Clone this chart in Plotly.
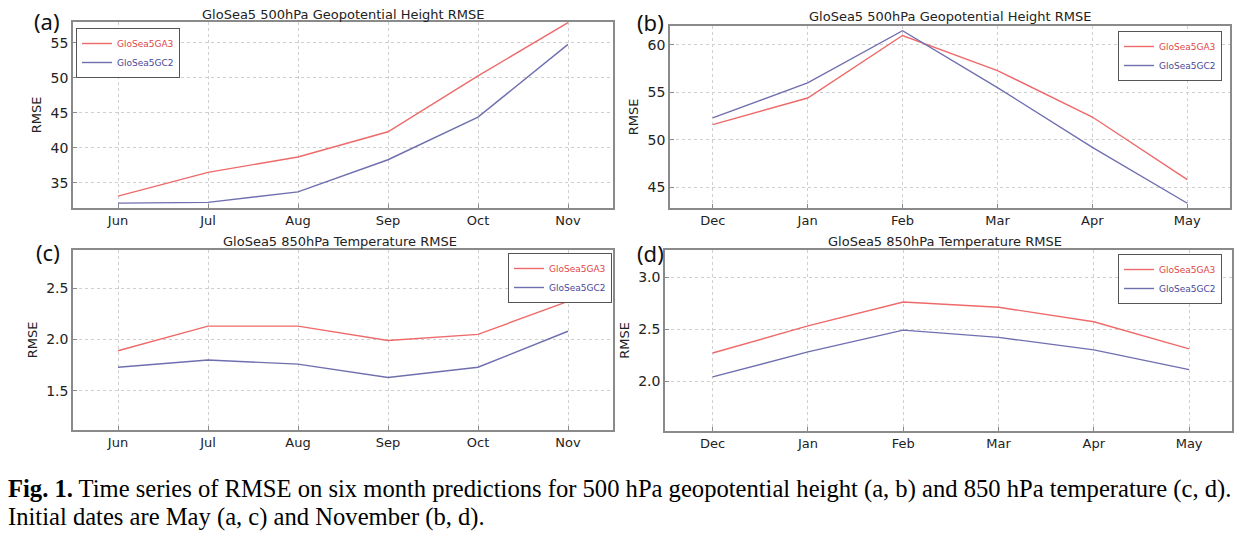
import plotly.graph_objects as go

W, H = 1257, 534

months_a = ["Jun", "Jul", "Aug", "Sep", "Oct", "Nov"]
months_b = ["Dec", "Jan", "Feb", "Mar", "Apr", "May"]

ga3_a = [33.1, 36.5, 38.7, 42.3, 50.3, 57.9]
gc2_a = [32.1, 32.2, 33.7, 38.3, 44.4, 54.8]
ga3_b = [51.6, 54.4, 61.0, 57.3, 52.4, 45.8]
gc2_b = [52.3, 56.0, 61.5, 55.5, 49.2, 43.3]
ga3_c = [1.89, 2.13, 2.13, 1.99, 2.05, 2.37]
gc2_c = [1.73, 1.80, 1.76, 1.63, 1.73, 2.08]
ga3_d = [2.27, 2.53, 2.76, 2.71, 2.57, 2.31]
gc2_d = [2.04, 2.28, 2.49, 2.42, 2.30, 2.11]

ticks_a = [35, 40, 45, 50, 55]
ticks_b = [45, 50, 55, 60]
ticks_c = [1.5, 2.0, 2.5]
ticks_d = [2.0, 2.5, 3.0]

titles = ["GloSea5 500hPa Geopotential Height RMSE",
          "GloSea5 500hPa Geopotential Height RMSE",
          "GloSea5 850hPa Temperature RMSE",
          "GloSea5 850hPa Temperature RMSE"]
letters = ["(a)", "(b)", "(c)", "(d)"]
series_names = ["GloSea5GA3", "GloSea5GC2"]

RED = "#ee6a6a"
BLUE = "#6f6fb0"
RED_TXT = "#e04848"
BLUE_TXT = "#48489a"
FONT = "DejaVu Sans"
AXC = "#8a8a8a"

# panel boxes in pixels: left, right, top, bottom
boxes = [(73, 613, 22, 208), (670, 1230, 26, 208), (73, 613, 250, 430), (665, 1232, 250, 431)]
yranges = [[31.4, 58.0], [42.8, 62.0], [1.12, 2.87], [1.52, 3.26]]
xranges = [[-0.5, 5.5], [-0.45, 5.45], [-0.5, 5.5], [-0.5, 5.45]]
panels = [
    (months_a, ga3_a, gc2_a, ticks_a, "%d"),
    (months_b, ga3_b, gc2_b, ticks_b, "%d"),
    (months_a, ga3_c, gc2_c, ticks_c, "%.1f"),
    (months_b, ga3_d, gc2_d, ticks_d, "%.1f"),
]
legend_pos = [(76, 28, "left"), (1222, 31, "right"), (612, 253, "right"), (1222, 254, "right")]
title_pos = [(343, 15), (950, 17), (340, 241), (945, 241)]
letter_pos = [(47, 21), (650, 22), (48, 252), (650, 253)]

fig = go.Figure()
layout = dict(
    width=W, height=H, margin=dict(l=0, r=0, t=0, b=0),
    paper_bgcolor="white", plot_bgcolor="white",
    font=dict(family=FONT, size=12, color="#222"),
    annotations=[],
)

for i, (cats, ga3, gc2, yt, fmt) in enumerate(panels):
    n = "" if i == 0 else str(i + 1)
    xa, ya = "x" + n, "y" + n
    lg = "legend" + n
    fig.add_trace(go.Scatter(x=cats, y=ga3, mode="lines",
                             name="<span style='color:%s'>%s</span>" % (RED_TXT, series_names[0]),
                             line=dict(color=RED, width=1.4), xaxis=xa, yaxis=ya, legend=lg))
    fig.add_trace(go.Scatter(x=cats, y=gc2, mode="lines",
                             name="<span style='color:%s'>%s</span>" % (BLUE_TXT, series_names[1]),
                             line=dict(color=BLUE, width=1.4), xaxis=xa, yaxis=ya, legend=lg))
    l, r, t, b = boxes[i]
    layout["xaxis" + n] = dict(
        domain=[l / W, r / W], anchor=ya, type="category", range=xranges[i],
        showline=True, mirror=True, linecolor=AXC, linewidth=1.5,
        showgrid=True, gridcolor="#cfcfcf", griddash="dot", gridwidth=1,
        ticks="inside", ticklen=4, tickcolor=AXC, automargin=False,
        tickfont=dict(size=13, color="#222"), zeroline=False,
    )
    layout["yaxis" + n] = dict(
        domain=[1 - b / H, 1 - t / H], anchor=xa, range=yranges[i],
        tickvals=yt, ticktext=[fmt % v for v in yt],
        showline=True, mirror=True, linecolor=AXC, linewidth=1.5,
        showgrid=True, gridcolor="#cfcfcf", griddash="dot", gridwidth=1,
        ticks="inside", ticklen=4, tickcolor=AXC, automargin=False,
        tickfont=dict(size=14, color="#222"), zeroline=False,
        title=dict(text="RMSE", font=dict(size=13, color="#222"), standoff=6),
    )
    lx, ly, anch = legend_pos[i]
    layout[lg] = dict(
        x=lx / W, y=1 - ly / H, xanchor=anch, yanchor="top",
        bgcolor="white", bordercolor="#555", borderwidth=1,
        font=dict(size=9, family=FONT), itemwidth=30, tracegroupgap=0,
    )
    tx, ty = title_pos[i]
    layout["annotations"].append(dict(
        text=titles[i], x=tx / W, y=1 - ty / H, xref="paper", yref="paper",
        showarrow=False, font=dict(size=13, color="#222"), xanchor="center", yanchor="middle"))
    px, py = letter_pos[i]
    layout["annotations"].append(dict(
        text=letters[i], x=px / W, y=1 - py / H, xref="paper", yref="paper",
        showarrow=False, font=dict(size=22, color="#111", family="Noto Sans"),
        xanchor="center", yanchor="middle"))

caption1 = ("<b>Fig. 1.</b> Time series of RMSE on six month predictions for 500 hPa geopotential "
            "height (a, b) and 850 hPa temperature (c, d).")
caption2 = "Initial dates are May (a, c) and November (b, d)."
for txt, cy in [(caption1, 489), (caption2, 517)]:
    layout["annotations"].append(dict(
        text=txt, x=6 / W, y=1 - cy / H, xref="paper", yref="paper", showarrow=False,
        xanchor="left", yanchor="middle", align="left",
        font=dict(size=24.6, color="#000", family="Liberation Serif")))

fig.update_layout(**layout)
fig.write_html("out.html", config={"displayModeBar": False},
               post_script="document.body.style.margin='0px';")
